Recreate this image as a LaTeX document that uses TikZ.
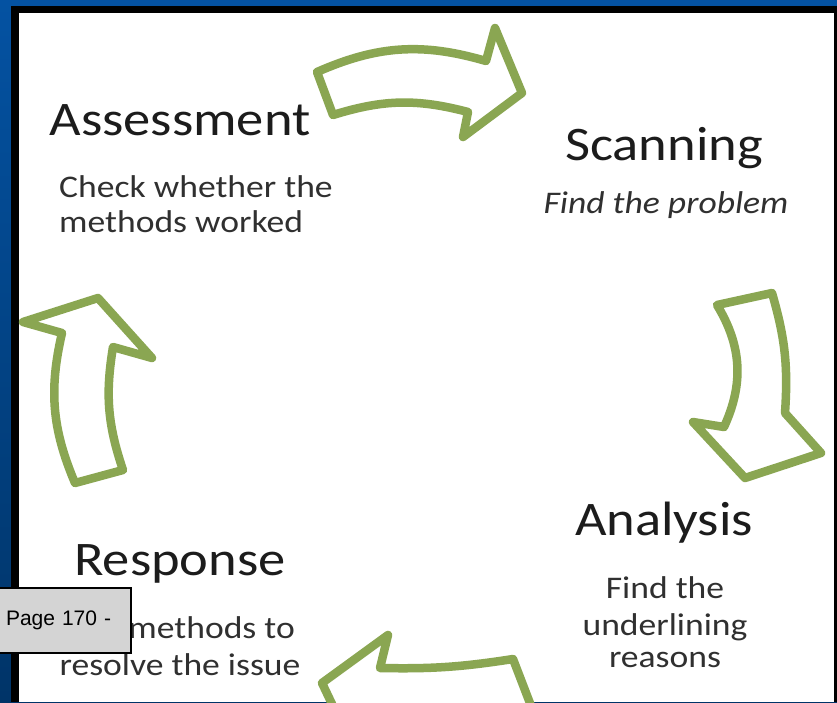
\documentclass[tikz,border=0pt]{standalone}
\usepackage{fontspec}
\newfontfamily\slidefont[FakeStretch=1.13]{Carlito}
\newfontfamily\pagefont{Liberation Sans}
\usepackage{tikz}

\definecolor{arrowgreen}{RGB}{138,166,82}
\definecolor{frametop}{RGB}{4,82,162}
\definecolor{framebot}{RGB}{0,52,104}
\definecolor{titlegray}{RGB}{28,28,28}
\definecolor{bodygray}{RGB}{48,48,48}
\definecolor{labelgray}{RGB}{212,212,212}

\tikzstyle{title}=[inner sep=0pt, text=titlegray, font=\slidefont\fontsize{48.2}{50}\selectfont]
\tikzstyle{body}=[inner sep=0pt, text=bodygray, font=\slidefont\fontsize{31.5}{35}\selectfont]
\tikzstyle{cyclearrow}=[draw=arrowgreen, line width=8.5pt, fill=white, line join=round]
\tikzset{pagebox/.style={rectangle,draw=black,line width=2pt,fill=labelgray,minimum height=65pt,text width=118pt,inner xsep=7pt,align=left,font=\pagefont\fontsize{21}{23}\selectfont}}

\begin{document}
\begin{tikzpicture}[x=1pt, y=-1pt]

  \useasboundingbox (0,0) rectangle (837,702);
  \clip (0,0) rectangle (837,702);

  % slide frame
  \fill[top color=frametop, bottom color=framebot] (0,0) rectangle (837,702);
  \fill[black] (11,6) rectangle (837,702);
  \fill[white] (19,13) rectangle (834,702);

  % the four bent arrows of the cycle
  \draw[cyclearrow] (317,72) to[bend left=20] (486,61) -- (495,28) -- (522,93) -- (463,137) -- (468,112) to[bend right=16] (333,115) -- cycle;
  \draw[cyclearrow] (717,305) -- (772,293) to[bend left=10] (785,413) -- (821,453) -- (745,478) -- (693,422) -- (724,427) to[bend right=28] (717,305) -- cycle;
  \draw[cyclearrow] (322,683) -- (388,635) -- (380,668) to[bend right=5] (513,659) -- (548,750) -- (378,750) -- (382,716) -- (342,725) -- cycle;
  \draw[cyclearrow] (75,483) -- (123,470) to[bend left=14] (113,347) -- (152,358) -- (98,298) -- (23,322) -- (62,333) to[bend right=18] (75,483) -- cycle;

  % stage titles
  \foreach \x/\y/\name/\label in {180/135/assess/Assessment, 664/160/scan/Scanning, 664/535/analysis/Analysis, 180/575/resp/Response}
          \node[title, anchor=base] (\name) at (\x,\y) {\label};

  % stage descriptions
  \foreach \y/\name/\label in {197/assess1/Check whether the, 232/assess2/methods worked}
          \node[body, anchor=base west] (\name) at (59,\y) {\label};
  \node[body, anchor=base] (scan1) at (666,213) {\itshape Find the problem};
  \foreach \y/\name/\label in {598/analysis1/Find the, 635/analysis2/underlining, 667/analysis3/reasons}
          \node[body, anchor=base] (\name) at (665,\y) {\label};
  \node[body, anchor=base east] (resp1) at (295,638) {methods to};
  \node[body, anchor=base] (resp2) at (180,675) {resolve the issue};

  % page tag on top
  \node[pagebox, anchor=north west] (page) at (-2,587) {Page 170 -};

\end{tikzpicture}
\end{document}
